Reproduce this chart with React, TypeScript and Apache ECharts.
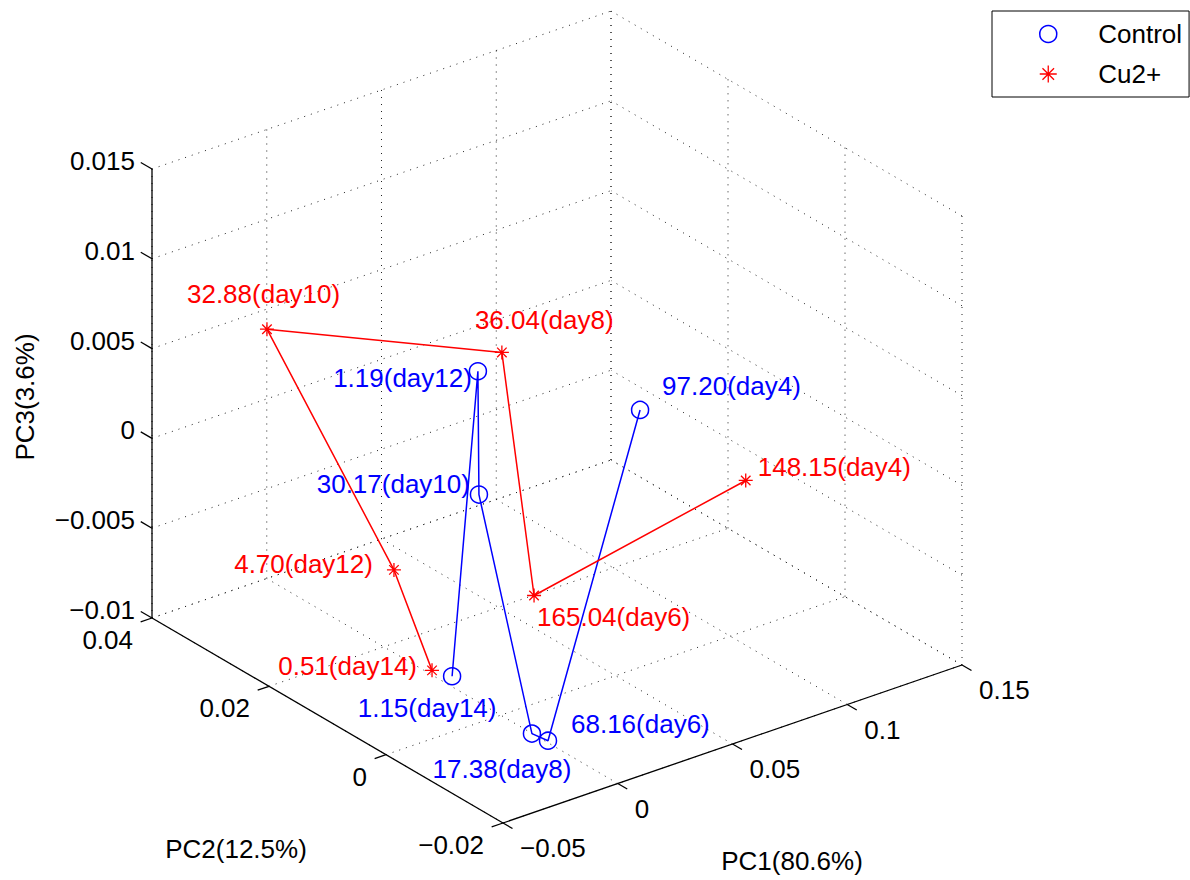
import React, { useEffect, useRef } from 'react';
import * as echarts from 'echarts';

// ---------------- data ----------------
const days = ['day4', 'day6', 'day8', 'day10', 'day12', 'day14'];
const controlValues = ['97.20', '68.16', '17.38', '30.17', '1.19', '1.15'];
const cuValues = ['148.15', '165.04', '36.04', '32.88', '4.70', '0.51'];

const controlPC1 = [0.0862, -0.01, -0.0119, -0.0095, -0.0227, -0.0212];
const controlPC2 = [0.01, -0.012, -0.01, 0.0, -0.005, 0.0];
const controlPC3 = [0.0013, -0.0087, -0.0086, 0.0027, 0.0111, -0.0069];

const cuPC1 = [0.12, 0.04, -0.025, -0.0254, -0.0083, -0.0172];
const cuPC2 = [0.0052, 0.01, -0.01, 0.03, 0.015, 0.005];
const cuPC3 = [-0.0032, -0.007, 0.0132, 0.0069, -0.0044, -0.0077];

const pc1Ticks = [-0.05, 0, 0.05, 0.1, 0.15];
const pc2Ticks = [-0.02, 0, 0.02, 0.04];
const pc3Ticks = [-0.01, -0.005, 0, 0.005, 0.01, 0.015];
const pc1TickLabels = ['\u22120.05', '0', '0.05', '0.1', '0.15'];
const pc2TickLabels = ['\u22120.02', '0', '0.02', '0.04'];
const pc3TickLabels = ['\u22120.01', '\u22120.005', '0', '0.005', '0.01', '0.015'];

const seriesNames = ['Control', 'Cu2+'];
const axisTitles = ['PC1(80.6%)', 'PC2(12.5%)', 'PC3(3.6%)'];

// ---------------- layout (view projection) ----------------
const W = 1190;
const H = 880;
const ORIGIN = [503, 823]; // pixel of the (PC1 min, PC2 min, PC3 min) corner
const E1 = [459, -158]; // pixel vector spanning the full PC1 range
const E2 = [-351, -205]; // pixel vector spanning the full PC2 range
const E3 = [0, -449]; // pixel vector spanning the full PC3 range
const R1 = [pc1Ticks[0], pc1Ticks[pc1Ticks.length - 1]];
const R2 = [pc2Ticks[0], pc2Ticks[pc2Ticks.length - 1]];
const R3 = [pc3Ticks[0], pc3Ticks[pc3Ticks.length - 1]];

function project(p1: number, p2: number, p3: number): [number, number] {
  const a = (p1 - R1[0]) / (R1[1] - R1[0]);
  const b = (p2 - R2[0]) / (R2[1] - R2[0]);
  const c = (p3 - R3[0]) / (R3[1] - R3[0]);
  return [
    ORIGIN[0] + a * E1[0] + b * E2[0] + c * E3[0],
    ORIGIN[1] + a * E1[1] + b * E2[1] + c * E3[1],
  ];
}

const FONT = "'Liberation Sans', Arial, Helvetica, sans-serif";
const FS = 26;
const BLUE = '#0000ff';
const RED = '#ff0000';
const STAR = 'path://M5 0L5 10M0 5L10 5M1.6 1.6L8.4 8.4M1.6 8.4L8.4 1.6';

// label placement: [align, dx, dy] relative to marker
const controlLabelPlacement: [string, number, number][] = [
  ['left', 22, -24],
  ['left', 23, -17],
  ['center', -30, 35],
  ['right', -9, -11],
  ['right', -6, 7],
  ['center', -25, 32],
];
const cuLabelPlacement: [string, number, number][] = [
  ['left', 12, -13],
  ['left', 3, 21],
  ['left', -27, -32],
  ['left', -80, -35],
  ['right', -21, -6],
  ['right', -15, -4],
];

function unit(v: number[]) {
  const l = Math.hypot(v[0], v[1]);
  return [v[0] / l, v[1] / l];
}

function buildGraphics() {
  const g: any[] = [];
  const dotted = (a: [number, number], b: [number, number]) =>
    g.push({
      type: 'line',
      silent: true,
      z: 1,
      shape: { x1: a[0], y1: a[1], x2: b[0], y2: b[1] },
      style: { stroke: '#222', lineWidth: 1, lineDash: [1, 6] },
    });
  const solid = (a: [number, number], b: [number, number]) =>
    g.push({
      type: 'line',
      silent: true,
      z: 3,
      shape: { x1: a[0], y1: a[1], x2: b[0], y2: b[1] },
      style: { stroke: '#000', lineWidth: 1.3 },
    });
  const text = (x: number, y: number, t: string, align: string, extra: any = {}) =>
    g.push({
      type: 'text',
      silent: true,
      z: 4,
      x,
      y,
      ...extra,
      style: { text: t, fill: '#000', fontSize: FS, fontFamily: FONT, align, verticalAlign: 'middle' },
    });

  // floor grid (PC3 min)
  pc1Ticks.forEach((t) => dotted(project(t, R2[0], R3[0]), project(t, R2[1], R3[0])));
  pc2Ticks.forEach((t) => dotted(project(R1[0], t, R3[0]), project(R1[1], t, R3[0])));
  // back wall at PC2 max
  pc1Ticks.forEach((t) => dotted(project(t, R2[1], R3[0]), project(t, R2[1], R3[1])));
  pc3Ticks.forEach((t) => dotted(project(R1[0], R2[1], t), project(R1[1], R2[1], t)));
  // back wall at PC1 max
  pc2Ticks.forEach((t) => dotted(project(R1[1], t, R3[0]), project(R1[1], t, R3[1])));
  pc3Ticks.forEach((t) => dotted(project(R1[1], R2[0], t), project(R1[1], R2[1], t)));

  // axes
  solid(project(R1[0], R2[0], R3[0]), project(R1[1], R2[0], R3[0]));
  solid(project(R1[0], R2[0], R3[0]), project(R1[0], R2[1], R3[0]));
  solid(project(R1[0], R2[1], R3[0]), project(R1[0], R2[1], R3[1]));

  const u1 = unit(E1);
  const u2 = unit(E2);
  // PC1 ticks (toward -PC2)
  pc1Ticks.forEach((t, i) => {
    const p = project(t, R2[0], R3[0]);
    solid(p, [p[0] - u2[0] * 11, p[1] - u2[1] * 11]);
    text(p[0] + 17, p[1] + 25, pc1TickLabels[i], 'left');
  });
  // PC2 ticks (toward -PC1)
  pc2Ticks.forEach((t, i) => {
    const p = project(R1[0], t, R3[0]);
    solid(p, [p[0] - u1[0] * 12, p[1] - u1[1] * 12]);
    text(p[0] - 19, p[1] + 22, pc2TickLabels[i], 'right');
  });
  // PC3 ticks (toward +PC2)
  pc3Ticks.forEach((t, i) => {
    const p = project(R1[0], R2[1], t);
    solid(p, [p[0] + u2[0] * 13, p[1] + u2[1] * 13]);
    text(p[0] - 17, p[1] - 8, pc3TickLabels[i], 'right');
  });

  // axis titles
  text(792, 861, axisTitles[0], 'center');
  text(236, 849, axisTitles[1], 'center');
  text(25, 397, axisTitles[2], 'center', { rotation: Math.PI / 2 });
  return g;
}

function buildSeriesData(
  p1: number[],
  p2: number[],
  p3: number[],
  vals: string[],
  place: [string, number, number][],
  color: string
) {
  return p1.map((v, i) => ({
    name: days[i],
    value: project(v, p2[i], p3[i]),
    label: {
      show: true,
      position: 'inside',
      formatter: `${vals[i]}(${days[i]})`,
      align: place[i][0],
      verticalAlign: 'middle',
      offset: [place[i][1], place[i][2]],
      color,
      fontSize: FS,
      fontFamily: FONT,
    },
  }));
}

export default function App() {
  const ref = useRef<HTMLDivElement>(null);
  useEffect(() => {
    if (!ref.current) return;
    const chart = echarts.init(ref.current, undefined, { renderer: 'svg' });
    chart.setOption({
      animation: false,
      backgroundColor: '#fff',
      grid: { left: 0, right: 0, top: 0, bottom: 0, containLabel: false },
      xAxis: { type: 'value', min: 0, max: W, show: false },
      yAxis: { type: 'value', min: 0, max: H, inverse: true, show: false },
      legend: {
        orient: 'vertical',
        left: 992,
        top: 11,
        padding: [8, 7, 8, 47],
        itemGap: 10,
        itemWidth: 90,
        itemHeight: 17,
        selectedMode: false,
        backgroundColor: '#fff',
        borderColor: '#000',
        borderWidth: 1,
        borderRadius: 0,
        textStyle: { fontSize: FS, fontFamily: FONT, color: '#000', lineHeight: 30 },
        data: [
          {
            name: seriesNames[0],
            icon: 'circle',
            itemStyle: { color: 'rgba(0,0,0,0)', borderColor: BLUE, borderWidth: 1.5 },
          },
          {
            name: seriesNames[1],
            icon: STAR,
            itemStyle: { color: 'rgba(0,0,0,0)', borderColor: RED, borderWidth: 1.3 },
          },
        ],
      },
      graphic: buildGraphics(),
      series: [
        {
          name: seriesNames[0],
          type: 'line',
          z: 5,
          symbol: 'circle',
          symbolSize: 17,
          showAllSymbol: true,
          lineStyle: { color: BLUE, width: 1.5 },
          itemStyle: { color: 'rgba(0,0,0,0)', borderColor: BLUE, borderWidth: 1.5 },
          emphasis: { disabled: true },
          data: buildSeriesData(controlPC1, controlPC2, controlPC3, controlValues, controlLabelPlacement, BLUE),
        },
        {
          name: seriesNames[1],
          type: 'line',
          z: 5,
          symbol: STAR,
          symbolSize: 14,
          showAllSymbol: true,
          lineStyle: { color: RED, width: 1.5 },
          itemStyle: { color: 'rgba(0,0,0,0)', borderColor: RED, borderWidth: 1.3 },
          emphasis: { disabled: true },
          data: buildSeriesData(cuPC1, cuPC2, cuPC3, cuValues, cuLabelPlacement, RED),
        },
      ],
    });
    return () => chart.dispose();
  }, []);
  return (
    <div
      ref={ref}
      style={{ position: 'absolute', left: 0, top: 0, width: W, height: H, background: '#fff' }}
    />
  );
}
